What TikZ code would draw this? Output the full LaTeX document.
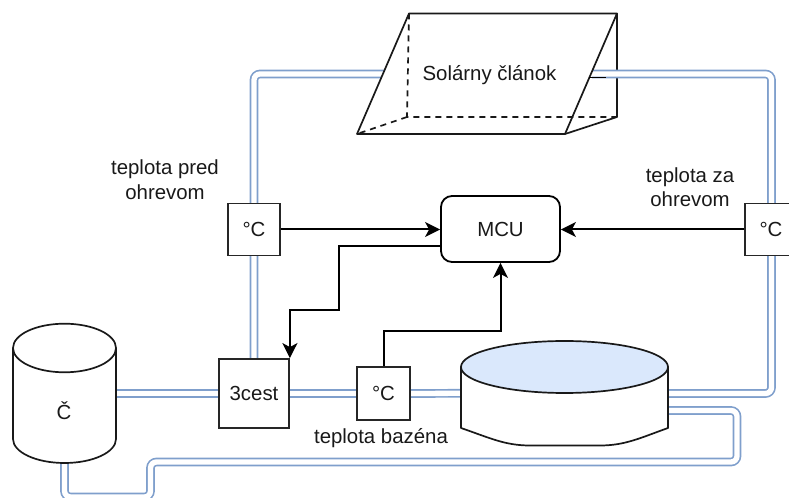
\documentclass[tikz,border=0pt]{standalone}
\usepackage{fontspec}
\setmainfont{Liberation Sans}
\usetikzlibrary{arrows.meta,calc}
\pgfdeclarelayer{backlines}
\pgfdeclarelayer{pipes}
\pgfsetlayers{backlines,pipes,main}
\definecolor{pipeblue}{HTML}{7F9FCC}
\definecolor{poolblue}{HTML}{DAE8FC}
\def\px{0.75pt}
\tikzset{
  lbl/.style={font=\fontsize{15.3}{18.4}\selectfont,align=center,inner sep=0pt,text=black!90},
  box/.style={lbl,draw=black!85,line width=1.8*\px,fill=white,minimum width=#1*\px,minimum height=#1*\px},
  anchorbox/.style n args={2}{lbl,minimum width=#1*\px,minimum height=#2*\px},
  outline/.style={draw=black!90,line width=1.7*\px,line join=round},
  pipe/.style={draw=pipeblue,line width=1.7*\px,double=white,double distance=5.3*\px,rounded corners=6*\px},
  signal/.style={draw=black,line width=2*\px,-{Stealth[length=15*\px,width=15*\px,inset=4*\px]}},
  wire/.style={draw=black,line width=1.8*\px}
}
\begin{document}
\begin{tikzpicture}[x=0.75pt,y=-0.75pt]
\useasboundingbox (0,0) rectangle (789,498);
% nodes
\node[box=52] (tl) at (254,229.5) {°C};
\node[box=52] (tr) at (771,229.5) {°C};
\node[box=53] (tm) at (383.5,393.5) {°C};
\node[lbl,draw=black!85,line width=1.8*\px,fill=white,minimum width=70*\px,minimum height=69*\px] (valve) at (254,393.5) {3cest};
\node[lbl,draw=black,line width=1.8*\px,fill=white,rounded corners=11*\px,minimum width=119*\px,minimum height=66*\px] (mcu) at (500.5,229) {MCU};
\node[anchorbox={103}{139}] (tank) at (64.5,393.5) {};
\node[anchorbox={207}{104.5}] (pool) at (564.5,393.3) {};
\node[anchorbox={260}{120.5}] (solar) at (487,74) {};
% labels
\node[lbl] (l1) at (165,179.5) {teplota pred\\ohrevom};
\node[lbl] (l2) at (690,187) {teplota za\\ohrevom};
\node[lbl] (l3) at (381,438) {teplota bazéna};
% solar cell
\begin{pgfonlayer}{backlines}
\draw[outline] (617,13.5) -- (617,117) -- (565,134);
\end{pgfonlayer}
\fill[white] (409,13.5) -- (617,13.5) -- (565,134) -- (357,134) -- cycle;
\draw[outline,dashed,dash pattern=on 6*\px off 5*\px] (409,13.5) -- (407,117) -- (617,117);
\draw[outline,dashed,dash pattern=on 6*\px off 5*\px] (407,117) -- (357,134);
\draw[outline] (409,13.5) -- (617,13.5) -- (565,134) -- (357,134) -- cycle;
\node[lbl] (soltext) at (489.5,75) {Solárny článok};
\draw[wire] (589,77.5) -- (606,77.5);
% tank
\draw[outline,fill=white] (13,348) arc[start angle=180,end angle=0,x radius=51.5,y radius=-24.3]
  -- (116,439) arc[start angle=0,end angle=-180,x radius=51.5,y radius=-24] -- cycle;
\draw[outline] (13,348) arc[start angle=180,end angle=360,x radius=51.5,y radius=-24.3];
\node[lbl] (tanktext) at (64,411) {Č};
% pool
\draw[outline,fill=white] (461,367) -- (461,428) .. controls (490,438) and (505,445.5) .. (530,445.5)
  -- (600,445.5) .. controls (625,445.5) and (640,438) .. (668,428) -- (668,367) -- cycle;
\draw[outline,fill=poolblue] (564.5,367) ellipse[x radius=103.5,y radius=26];
% pipes
\coordinate (solL) at (390,74);
\coordinate (solR) at (592,74);
\coordinate (outB) at (668,393.5);
\coordinate (outC) at (668,410.5);
\coordinate (tankB) at (64.5,463);
\begin{pgfonlayer}{pipes}
\draw[pipe] (solL) -- (254,74) -- (valve.north);
\draw[pipe] (solR) -- (771.5,74) -- (771.5,393.5) -- (outB);
\draw[pipe] (tank.east) -- (valve.west);
\draw[pipe] (valve.east) -- (tm.west);
\draw[pipe] (tm.east) -- (pool.west);
\draw[pipe] (outC) -- (737,410.5) -- (737,462) -- (150.5,462) -- (150.5,497) -- (64.5,497) -- (tankB);
\end{pgfonlayer}
% signals
\draw[signal] (tl.east) -- (tl.east -| mcu.west);
\draw[signal] (tr.west) -- (tr.west -| mcu.east);
\coordinate (mcuOut) at (441,246);
\draw[signal] (mcuOut) -- (339,246) -- (339,310) -- (valve.north east |- 0,310) -- (valve.north east);
\draw[signal] (tm.north) -- (383.5,331) -- (500.5,331) -- (mcu.south);
\end{tikzpicture}
\end{document}
